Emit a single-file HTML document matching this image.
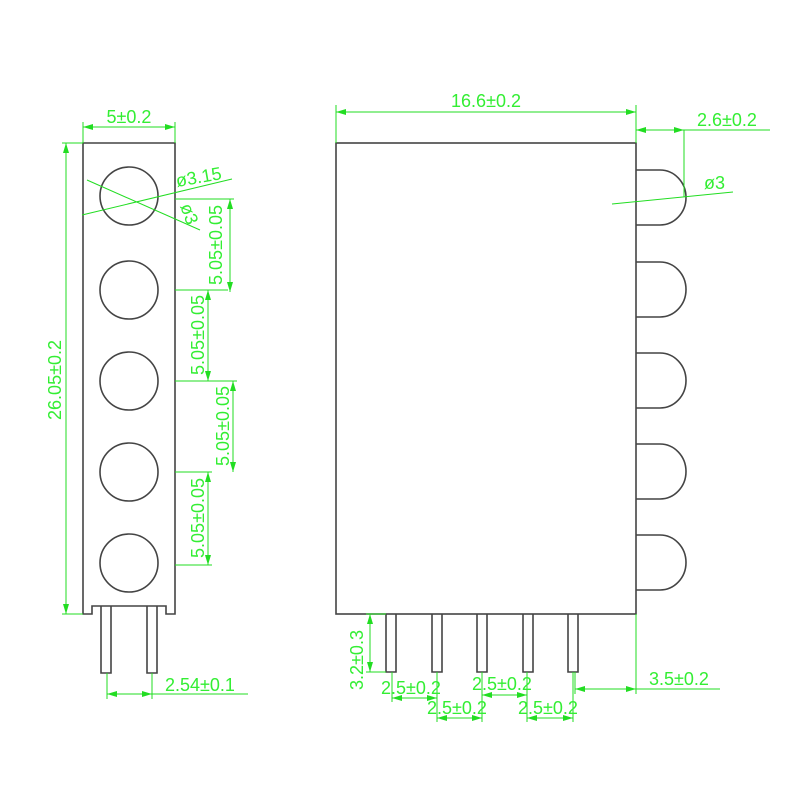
<!DOCTYPE html>
<html><head><style>body{margin:0;background:#fff}svg{display:block}</style></head><body>
<svg width="800" height="800" viewBox="0 0 800 800" xmlns="http://www.w3.org/2000/svg" font-family="Liberation Sans, sans-serif">
<defs><marker id="a" viewBox="0 0 10 6" refX="10" refY="3" markerWidth="10" markerHeight="6" orient="auto-start-reverse" markerUnits="userSpaceOnUse"><path d="M0 0 L10 3 L0 6 Z" fill="#22dd22"/></marker></defs>
<rect width="800" height="800" fill="#fff"/>
<g fill="none" stroke="#444" stroke-width="1.6">
<path d="M83 143 H175 V614 H166 V606 H92 V614 H83 Z"/>
<circle cx="129" cy="196" r="29"/><circle cx="129" cy="290" r="29"/><circle cx="129" cy="381" r="29"/><circle cx="129" cy="472" r="29"/><circle cx="129" cy="563" r="29"/>
<path d="M101 606 V673 H111 V606 M147 606 V673 H157 V606"/>
<rect x="336" y="143" width="300" height="471"/>
<path d="M636 170 H660 A26 27.5 0 0 1 660 225 H636"/>
<path d="M636 262 H660 A26 27.5 0 0 1 660 317 H636"/>
<path d="M636 353 H660 A26 27.5 0 0 1 660 408 H636"/>
<path d="M636 444 H660 A26 27.5 0 0 1 660 499 H636"/>
<path d="M636 535 H660 A26 27.5 0 0 1 660 590 H636"/>
<path d="M386 614 V672 H396 V614 M432 614 V672 H442 V614 M477 614 V672 H487 V614 M523 614 V672 H533 V614 M568 614 V672 H578 V614"/>
</g>
<g fill="none" stroke="#22dd22" stroke-width="1">
<path d="M83 143 V122 M175 143 V122"/>
<path d="M83 127 H175" marker-start="url(#a)" marker-end="url(#a)"/>
<path d="M83 143 H62 M83 614 H62"/>
<path d="M66 143 V614" marker-start="url(#a)" marker-end="url(#a)"/>
<path d="M82 215 L232 179 M87 180 L200 230"/>
<path d="M175 199 H234 M175 290 H228 M175 381 H237 M175 472 H212 M175 565 H212"/>
<path d="M230 199 V292" marker-start="url(#a)" marker-end="url(#a)"/>
<path d="M208 290 V381" marker-start="url(#a)" marker-end="url(#a)"/>
<path d="M233 381 V472" marker-start="url(#a)" marker-end="url(#a)"/>
<path d="M208 472 V565" marker-start="url(#a)" marker-end="url(#a)"/>
<path d="M107 673 V699 M152 673 V699 M152 694 H248"/>
<path d="M107 694 H152" marker-start="url(#a)" marker-end="url(#a)"/>
<path d="M336 143 V105 M636 143 V105"/>
<path d="M336 112 H636" marker-start="url(#a)" marker-end="url(#a)"/>
<path d="M636 143 V125 M684 130 H770 M684 130 V197 M612 204 L733 192"/>
<path d="M636 130 H684" marker-start="url(#a)" marker-end="url(#a)"/>
<path d="M386 614 H366 M386 672 H366"/>
<path d="M370 614 V672" marker-start="url(#a)" marker-end="url(#a)"/>
<path d="M636 614 V694 M575 672 V694 M636 689 H720"/>
<path d="M575 689 H636" marker-start="url(#a)" marker-end="url(#a)"/>
<path d="M392 672 V702 M437 672 V722 M482 672 V722 M527 672 V722 M573 672 V722"/>
<path d="M392 698 H437" marker-start="url(#a)" marker-end="url(#a)"/>
<path d="M437 718 H482" marker-start="url(#a)" marker-end="url(#a)"/>
<path d="M482 695 H527" marker-start="url(#a)" marker-end="url(#a)"/>
<path d="M527 718 H573" marker-start="url(#a)" marker-end="url(#a)"/>
</g>
<g fill="#33ee33" font-size="18">
<text x="129" y="123" text-anchor="middle">5±0.2</text>
<text transform="translate(61 380) rotate(-90)" text-anchor="middle">26.05±0.2</text>
<text transform="translate(177 187) rotate(-10)">ø3.15</text>
<text transform="translate(180 206) rotate(70)">ø3</text>
<text transform="translate(222 245) rotate(-90)" text-anchor="middle">5.05±0.05</text>
<text transform="translate(204 335) rotate(-90)" text-anchor="middle">5.05±0.05</text>
<text transform="translate(229 426) rotate(-90)" text-anchor="middle">5.05±0.05</text>
<text transform="translate(204 518) rotate(-90)" text-anchor="middle">5.05±0.05</text>
<text x="165" y="691">2.54±0.1</text>
<text x="486" y="107" text-anchor="middle">16.6±0.2</text>
<text x="697" y="126">2.6±0.2</text>
<text x="704" y="189">ø3</text>
<text transform="translate(363 660) rotate(-90)" text-anchor="middle">3.2±0.3</text>
<text x="649" y="685">3.5±0.2</text>
<text x="381" y="694">2.5±0.2</text>
<text x="427" y="714">2.5±0.2</text>
<text x="472" y="690">2.5±0.2</text>
<text x="518" y="714">2.5±0.2</text>
</g>
</svg>
</body></html>
